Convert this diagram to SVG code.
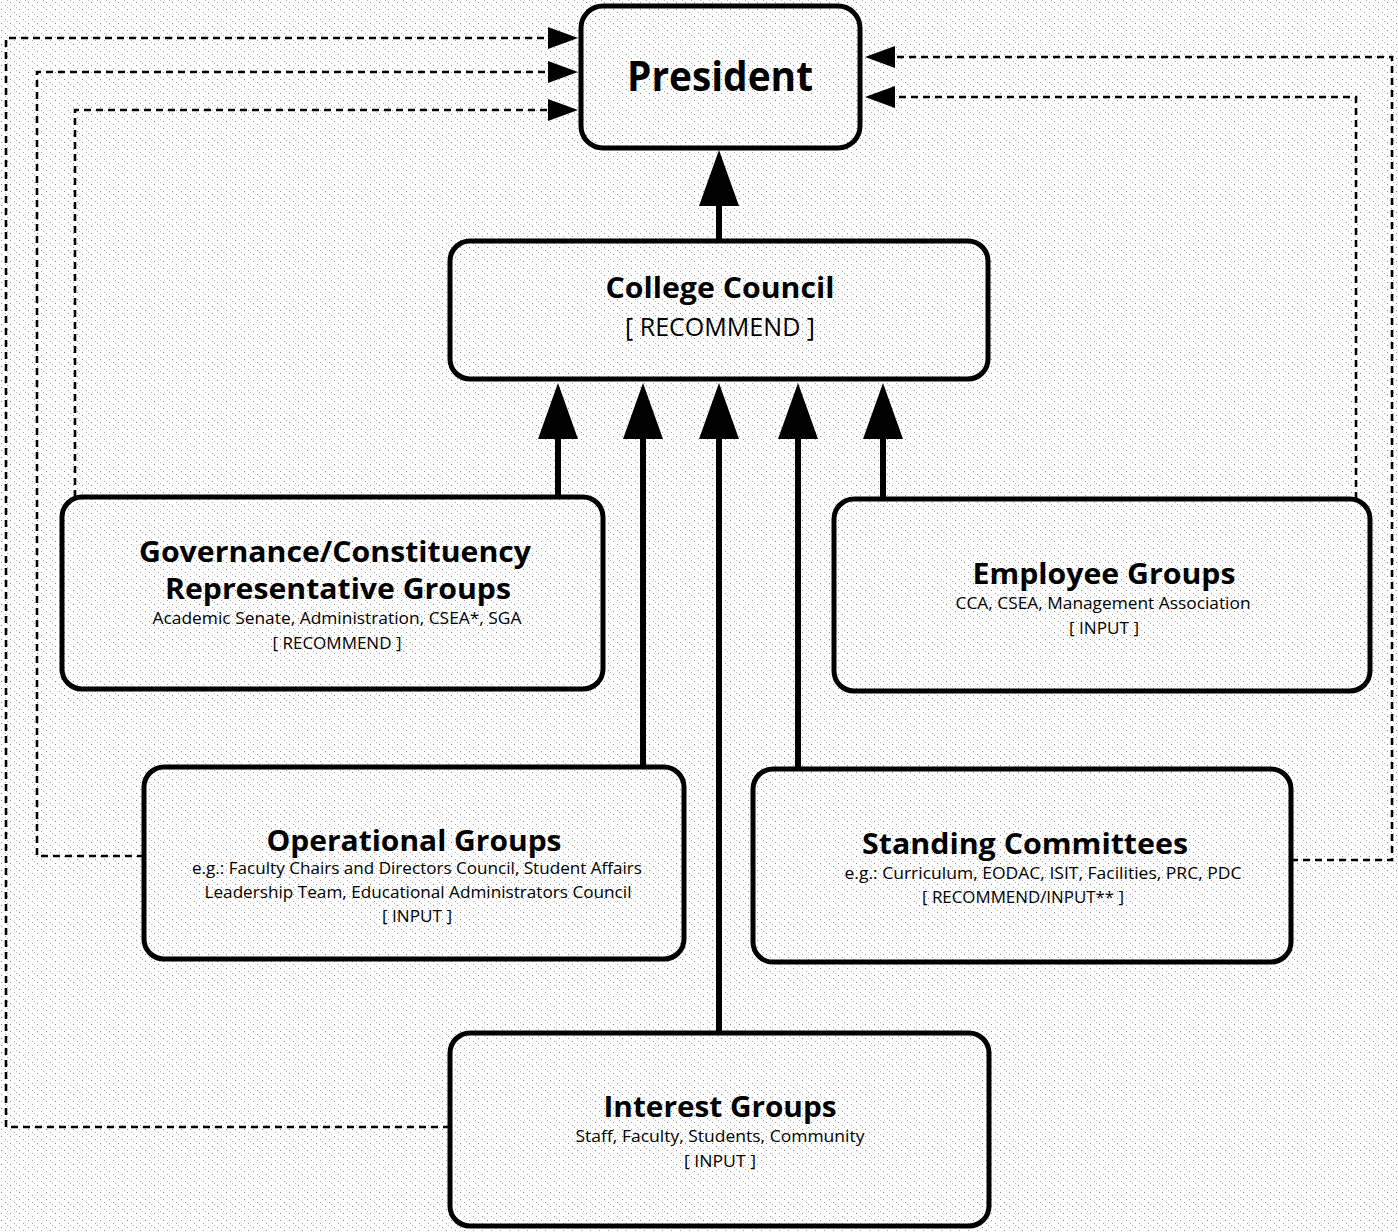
<svg xmlns="http://www.w3.org/2000/svg" width="1398" height="1232" viewBox="0 0 1398 1232">
  <style>
    .box { fill: none; stroke: #000; stroke-width: 5; }
    .solid { fill: none; stroke: #000; stroke-width: 6; }
    .dash { fill: none; stroke: #000; stroke-width: 2.6; stroke-dasharray: 7 5; }
    .t { font-family: "Open Sans", "Noto Sans", sans-serif; fill: #000; text-anchor: middle; }
    .title { font-weight: 700; font-size: 28px; }
    .big { font-weight: 700; font-size: 41px; }
    .mid { font-weight: 400; font-size: 25px; }
    .sm { font-weight: 400; font-size: 17px; }
  </style>
  <defs>
    <pattern id="noise" width="9" height="7" patternUnits="userSpaceOnUse">
      <rect width="9" height="7" fill="#ffffff"/>
      <rect x="1" y="2" width="1" height="1" fill="#8a8a8a"/>
      <rect x="5" y="5" width="1" height="1" fill="#a0a0a0"/>
      <rect x="7" y="0" width="1" height="1" fill="#b5b5b5"/>
    </pattern>
    <marker id="bigArrow" markerUnits="userSpaceOnUse" viewBox="0 0 56 40" markerWidth="56" markerHeight="40" refX="10" refY="20" orient="auto">
      <path d="M0,0 L56,20 L0,40 Z" fill="#000"/>
    </marker>
    <marker id="smallArrow" markerUnits="userSpaceOnUse" viewBox="0 0 30 22" markerWidth="30" markerHeight="22" refX="10" refY="11" orient="auto">
      <path d="M0,0 L30,11 L0,22 Z" fill="#000"/>
    </marker>
  </defs>
  <rect width="1398" height="1232" fill="url(#noise)"/>

  <g id="connectors">
    <path class="dash" d="M450,1127 H6 V38 H558" marker-end="url(#smallArrow)"/>
    <path class="dash" d="M144,856 H37 V72 H558" marker-end="url(#smallArrow)"/>
    <path class="dash" d="M75,497 V110 H558" marker-end="url(#smallArrow)"/>
    <path class="dash" d="M1291,860 H1392 V57 H885" marker-end="url(#smallArrow)"/>
    <path class="dash" d="M1356,499 V97 H885" marker-end="url(#smallArrow)"/>

    <path class="solid" d="M719,240 V196" marker-end="url(#bigArrow)"/>
    <path class="solid" d="M558,497 V429" marker-end="url(#bigArrow)"/>
    <path class="solid" d="M643,766 V429" marker-end="url(#bigArrow)"/>
    <path class="solid" d="M719,1032 V429" marker-end="url(#bigArrow)"/>
    <path class="solid" d="M798,768 V429" marker-end="url(#bigArrow)"/>
    <path class="solid" d="M883,499 V429" marker-end="url(#bigArrow)"/>
  </g>

  <g id="president">
    <rect class="box" x="581" y="6" width="279" height="142" rx="22"/>
    <text class="t big" x="720" y="91" textLength="186" lengthAdjust="spacingAndGlyphs">President</text>
  </g>

  <g id="college-council">
    <rect class="box" x="450" y="241" width="538" height="138" rx="20"/>
    <text class="t title" x="720" y="298" textLength="229" lengthAdjust="spacingAndGlyphs">College Council</text>
    <text class="t mid" x="720" y="336" textLength="190" lengthAdjust="spacingAndGlyphs">[ RECOMMEND ]</text>
  </g>

  <g id="governance">
    <rect class="box" x="62" y="497" width="541" height="192" rx="20"/>
    <text class="t title" x="335" y="562" textLength="392" lengthAdjust="spacingAndGlyphs">Governance/Constituency</text>
    <text class="t title" x="338" y="599" textLength="346" lengthAdjust="spacingAndGlyphs">Representative Groups</text>
    <text class="t sm" x="337" y="624" textLength="369" lengthAdjust="spacingAndGlyphs">Academic Senate, Administration, CSEA*, SGA</text>
    <text class="t sm" x="337" y="649" textLength="129" lengthAdjust="spacingAndGlyphs">[ RECOMMEND ]</text>
  </g>

  <g id="employee">
    <rect class="box" x="834" y="499" width="536" height="192" rx="20"/>
    <text class="t title" x="1104" y="584" textLength="263" lengthAdjust="spacingAndGlyphs">Employee Groups</text>
    <text class="t sm" x="1103" y="609" textLength="295" lengthAdjust="spacingAndGlyphs">CCA, CSEA, Management Association</text>
    <text class="t sm" x="1104" y="634" textLength="70" lengthAdjust="spacingAndGlyphs">[ INPUT ]</text>
  </g>

  <g id="operational">
    <rect class="box" x="144" y="767" width="540" height="192" rx="20"/>
    <text class="t title" x="414" y="851" textLength="295" lengthAdjust="spacingAndGlyphs">Operational Groups</text>
    <text class="t sm" x="417" y="874" textLength="450" lengthAdjust="spacingAndGlyphs">e.g.: Faculty Chairs and Directors Council, Student Affairs</text>
    <text class="t sm" x="418" y="898" textLength="427" lengthAdjust="spacingAndGlyphs">Leadership Team, Educational Administrators Council</text>
    <text class="t sm" x="417" y="922" textLength="70" lengthAdjust="spacingAndGlyphs">[ INPUT ]</text>
  </g>

  <g id="standing">
    <rect class="box" x="753" y="769" width="538" height="193" rx="20"/>
    <text class="t title" x="1025" y="854" textLength="326" lengthAdjust="spacingAndGlyphs">Standing Committees</text>
    <text class="t sm" x="1043" y="879" textLength="397" lengthAdjust="spacingAndGlyphs">e.g.: Curriculum, EODAC, ISIT, Facilities, PRC, PDC</text>
    <text class="t sm" x="1023" y="903" textLength="202" lengthAdjust="spacingAndGlyphs">[ RECOMMEND/INPUT** ]</text>
  </g>

  <g id="interest">
    <rect class="box" x="450" y="1033" width="539" height="193" rx="20"/>
    <text class="t title" x="720" y="1117" textLength="233" lengthAdjust="spacingAndGlyphs">Interest Groups</text>
    <text class="t sm" x="720" y="1142" textLength="289" lengthAdjust="spacingAndGlyphs">Staff, Faculty, Students, Community</text>
    <text class="t sm" x="720" y="1167" textLength="72" lengthAdjust="spacingAndGlyphs">[ INPUT ]</text>
  </g>
</svg>
